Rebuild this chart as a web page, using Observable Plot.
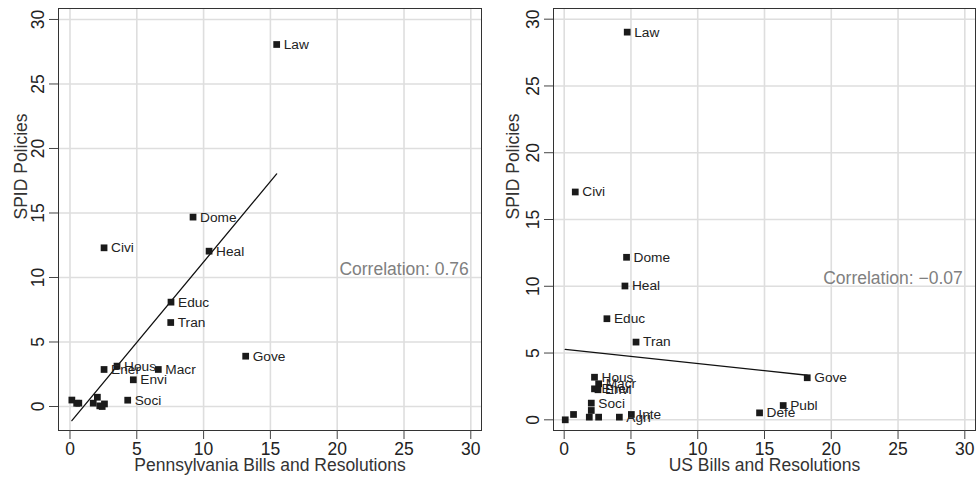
<!DOCTYPE html>
<html>
<head>
<meta charset="utf-8">
<script src="https://cdn.jsdelivr.net/npm/d3@7"></script>
<script src="https://cdn.jsdelivr.net/npm/@observablehq/plot@0.6"></script>
<style>
  html, body { margin: 0; padding: 0; background: #fff; }
  #wrap { display: flex; flex-direction: row; width: 977px; height: 478px; }
</style>
</head>
<body>
<div id="wrap"></div>
<script>
// ---- Data ----
const ticks = [0, 5, 10, 15, 20, 25, 30];

// Pennsylvania panel
const paLabels = ["Law", "Dome", "Civi", "Heal", "Educ", "Tran", "Gove", "Hous", "Ener", "Macr", "Envi", "Soci", "", "", "", "", "", "", "", ""];
const paBills  = [15.47, 9.21, 2.55, 10.41, 7.56, 7.54, 13.15, 3.52, 2.55, 6.61, 4.74, 4.32, 0.14, 0.66, 0.50, 1.74, 2.05, 2.23, 2.58, 2.41];
const paSpid   = [28.06, 14.68, 12.30, 12.04, 8.09, 6.51, 3.90, 3.13, 2.87, 2.87, 2.07, 0.49, 0.50, 0.26, 0.25, 0.26, 0.72, 0.05, 0.20, 0.00];

// US panel
const usLabels = ["Law", "Civi", "Dome", "Heal", "Educ", "Tran", "Gove", "Hous", "Macr", "Ener", "Envi", "Soci", "", "", "", "", "", "Agri", "Inte", "Defe", "Publ"];
const usBills  = [4.72, 0.83, 4.67, 4.55, 3.20, 5.38, 18.20, 2.27, 2.58, 2.27, 2.53, 2.03, 2.03, 0.08, 0.70, 1.88, 2.58, 4.13, 5.03, 14.63, 16.40];
const usSpid   = [29.03, 17.06, 12.17, 10.02, 7.57, 5.82, 3.15, 3.19, 2.70, 2.32, 2.25, 1.25, 0.70, 0.00, 0.40, 0.20, 0.20, 0.20, 0.40, 0.52, 1.07];

const xTitles = ["Pennsylvania Bills and Resolutions", "US Bills and Resolutions"];
const yTitle = "SPID Policies";
const corrTexts = ["Correlation: 0.76", "Correlation: \u22120.07"];

function rows(labels, xs, ys) {
  return labels.map((label, i) => ({label, x: xs[i], y: ys[i]}));
}

function panel({data, xDomain, yDomain, width, marginLeft, marginRight, xTitle, corr, yTitleDx}) {
  const font = "'Liberation Sans', Arial, Helvetica, sans-serif";
  return Plot.plot({
    width,
    height: 478,
    marginTop: 8,
    marginBottom: 48,
    marginLeft,
    marginRight,
    style: {fontFamily: font, fontSize: "17.5px", color: "#222", background: "white", overflow: "visible"},
    x: {domain: xDomain},
    y: {domain: yDomain},
    marks: [
      Plot.gridX(ticks, {stroke: "#dedede", strokeOpacity: 1, strokeWidth: 1.6}),
      Plot.gridY(ticks, {stroke: "#dedede", strokeOpacity: 1, strokeWidth: 1.6}),
      Plot.frame({stroke: "#333", strokeWidth: 1}),
      Plot.axisX(ticks, {tickSize: 9, tickPadding: 3, label: null, fontSize: 17.5, stroke: "#444"}),
      Plot.axisY(ticks, {tickSize: 9, tickPadding: 6, tickRotate: -90, label: null, fontSize: 17.5, stroke: "#444"}),
      Plot.linearRegressionY(data, {x: "x", y: "y", ci: 0, stroke: "#111", strokeWidth: 1.3}),
      Plot.dot(data, {x: "x", y: "y", symbol: "square", r: 3.8, fill: "#1a1a1a", stroke: null}),
      Plot.text(data.filter(d => d.label), {x: "x", y: "y", text: "label", dx: 7, textAnchor: "start", fontSize: 13.7, fill: "#222"}),
      Plot.text([corr], {x: 29.85, y: 10.6, text: d => d, textAnchor: "end", fill: "#808080", fontSize: 17.5}),
      Plot.text([xTitle], {frameAnchor: "bottom", dy: 40, text: d => d, fontSize: 17.5, fill: "#333"}),
      Plot.text([yTitle], {frameAnchor: "left", dx: yTitleDx, rotate: -90, text: d => d, fontSize: 17.5, fill: "#333"})
    ]
  });
}

const wrap = document.getElementById("wrap");
wrap.append(panel({
  data: rows(paLabels, paBills, paSpid),
  xDomain: [-0.86, 30.8],
  yDomain: [-1.86, 30.85],
  width: 490,
  marginLeft: 58,
  marginRight: 9,
  xTitle: xTitles[0],
  corr: corrTexts[0],
  yTitleDx: -37
}));
wrap.append(panel({
  data: rows(usLabels, usBills, usSpid),
  xDomain: [-0.8, 30.8],
  yDomain: [-0.8, 30.8],
  width: 487,
  marginLeft: 63,
  marginRight: 2,
  xTitle: xTitles[1],
  corr: corrTexts[1],
  yTitleDx: -40.6
}));
</script>
</body>
</html>
